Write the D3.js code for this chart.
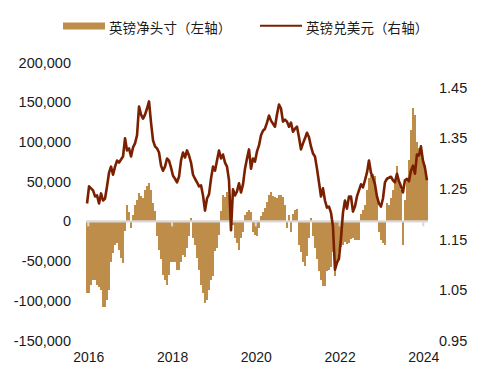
<!DOCTYPE html>
<html><head><meta charset="utf-8">
<script src="https://cdn.jsdelivr.net/npm/d3@7"></script>
<style>body{margin:0;background:#fff}svg{display:block}</style>
</head><body>
<svg id="c" width="485" height="380"></svg>
<script>
// ---- data ----
const seriesNames = ["英镑净头寸（左轴）", "英镑兑美元（右轴）"];
const yearTicks = [2016, 2018, 2020, 2022, 2024];
const leftTicks = [-150000, -100000, -50000, 0, 50000, 100000, 150000, 200000];
const rightTicks = [0.95, 1.05, 1.15, 1.25, 1.35, 1.45];
const startDate = new Date(2015, 11, 21);
const stepDays = 17.44;
// CFTC net position in GBP futures (contracts)
const netPosition = [
  -90000,-90000,-80000,-74000,-74000,-80000,-83000,-86000,-108000,-108000,
  -99000,-86000,-51000,-40000,-30000,-27000,-36000,-46000,-52000,-12000,
  21000,12000,-8000,8000,21000,27000,36000,32000,30000,40000,
  45000,48000,40000,23000,13000,-18000,-36000,-48000,-67000,-74000,
  -80000,-67000,-51000,-51000,-51000,-61000,-61000,-51000,-42000,-45000,
  -33000,-18000,4000,-21000,-30000,-46000,-61000,-80000,-90000,-103000,
  -99000,-87000,-74000,-69000,-37000,-33000,-17000,13000,33000,31000,
  37000,33000,21000,-4000,-21000,-27000,-36000,-21000,-13000,8000,
  12000,14000,12000,-13000,-17000,-19000,-8000,7000,12000,17000,
  24000,33000,37000,32000,31000,30000,33000,33000,31000,21000,
  -8000,8000,-14000,9000,14000,16000,-30000,-38000,-51000,-56000,
  -43000,-21000,4000,-19000,-33000,-48000,-63000,-74000,-81000,-82000,
  -63000,-61000,-58000,-38000,-69000,-53000,-38000,-32000,-30000,-26000,
  -28000,-27000,-22000,-21000,-23000,-23000,-24000,9000,14000,21000,
  40000,55000,58000,60000,57000,33000,-13000,-23000,-27000,-30000,
  23000,21000,30000,40000,48000,70000,52000,40000,-30000,27000,
  55000,77000,115000,143000,134000,100000,92000,96000,80000,71000,
  52000
];
// GBP/USD
const gbpusd = [
  1.221,1.255,1.251,1.247,1.235,1.237,1.221,1.241,1.227,1.231,
  1.255,1.282,1.294,1.278,1.294,1.306,1.302,1.308,1.314,1.350,
  1.326,1.330,1.314,1.332,1.340,1.356,1.413,1.397,1.389,1.397,
  1.409,1.423,1.381,1.346,1.334,1.330,1.322,1.296,1.286,1.294,
  1.310,1.306,1.292,1.276,1.270,1.263,1.274,1.306,1.322,1.312,
  1.326,1.316,1.302,1.278,1.270,1.263,1.255,1.257,1.237,1.207,
  1.231,1.239,1.270,1.294,1.286,1.306,1.326,1.310,1.318,1.302,
  1.294,1.267,1.168,1.249,1.237,1.245,1.261,1.243,1.259,1.290,
  1.310,1.328,1.290,1.310,1.304,1.324,1.336,1.356,1.365,1.369,
  1.381,1.395,1.385,1.379,1.373,1.397,1.417,1.409,1.383,1.387,
  1.383,1.373,1.381,1.363,1.369,1.373,1.352,1.328,1.340,1.350,
  1.361,1.352,1.334,1.320,1.314,1.290,1.263,1.235,1.251,1.227,
  1.213,1.215,1.203,1.175,1.090,1.104,1.112,1.152,1.203,1.227,
  1.211,1.235,1.235,1.205,1.215,1.235,1.247,1.259,1.253,1.267,
  1.282,1.306,1.282,1.272,1.259,1.235,1.221,1.215,1.231,1.263,
  1.270,1.272,1.274,1.267,1.263,1.280,1.265,1.255,1.243,1.267,
  1.270,1.265,1.286,1.296,1.280,1.318,1.316,1.334,1.306,1.292,
  1.267
];

// ---- chart ----
const barColor = "#bf8d4a", lineColor = "#7a2000", axisGray = "#d9d9d9";
const font = "'Liberation Sans', Arial, sans-serif";
const cjk = "'Noto Sans CJK SC', 'Noto Sans', sans-serif";
const svg = d3.select("#c");
const dates = netPosition.map((_, i) => new Date(startDate.getTime() + i * stepDays * 864e5));
const x = d3.scaleTime().domain([new Date(2016,0,1), new Date(2024,0,1)]).range([88.3, 423.3]);
const yL = d3.scaleLinear().domain([-150000, 200000]).range([340.5, 62.5]);
const yR = d3.scaleLinear().domain([0.95, 1.5]).range([340.5, 62.5]);
const bw = x(dates[1]) - x(dates[0]);

// bars
svg.append("g").selectAll("rect").data(netPosition).join("rect")
  .attr("x", (d,i) => x(dates[i]) - bw/2)
  .attr("width", bw + 0.3)
  .attr("y", d => Math.min(yL(d), yL(0)))
  .attr("height", d => Math.abs(yL(d) - yL(0)))
  .attr("fill", barColor)
  .attr("shape-rendering", "crispEdges");

// zero axis line + tick marks
const x0 = x(dates[0]) - bw/2, x1 = x(dates[dates.length-1]) + bw/2;
svg.append("line").attr("x1", x0).attr("x2", x1).attr("y1", yL(0)).attr("y2", yL(0))
  .attr("stroke", axisGray).attr("stroke-width", 2.2);
svg.append("g").selectAll("line").data(yearTicks).join("line")
  .attr("x1", d => x(new Date(d,0,1))).attr("x2", d => x(new Date(d,0,1)))
  .attr("y1", yL(0)).attr("y2", yL(0) + 5)
  .attr("stroke", axisGray).attr("stroke-width", 2);

// line
svg.append("path").datum(gbpusd)
  .attr("d", d3.line().x((d,i) => x(dates[i])).y(d => yR(d)))
  .attr("fill", "none").attr("stroke", lineColor).attr("stroke-width", 2.6)
  .attr("stroke-linejoin", "round");

// axes
const fmtL = d => d3.format(",")(d).replace("\u2212", "-");
const gl = svg.append("g").attr("transform", "translate(73,0)")
  .call(d3.axisLeft(yL).tickValues(leftTicks).tickSize(0).tickPadding(2).tickFormat(fmtL));
const gr = svg.append("g").attr("transform", "translate(436,0)")
  .call(d3.axisRight(yR).tickValues(rightTicks).tickSize(0).tickPadding(3).tickFormat(d3.format(".2f")));
const gb = svg.append("g").attr("transform", "translate(0,350)")
  .call(d3.axisBottom(x).tickValues(yearTicks.map(y => new Date(y,0,1))).tickSize(0).tickPadding(2).tickFormat(d3.timeFormat("%Y")));
[gl, gr, gb].forEach(g => {
  g.select(".domain").remove();
  g.selectAll("text").attr("font-family", font).attr("font-size", "14.5px").attr("fill", "#1a1a1a");
});
gb.selectAll("text").attr("font-size", "14px");

// legend (each CJK glyph on a full-width grid)
const adv = 13.6;
const charX = (x0, s) => Array.from(s).map((c, i) => (x0 + i * adv).toFixed(1)).join(" ");
const lg = svg.append("g");
lg.append("rect").attr("x", 63).attr("y", 22.5).attr("width", 42).attr("height", 7).attr("fill", barColor);
lg.append("text").attr("x", charX(109, seriesNames[0])).attr("y", 26.5).attr("dominant-baseline", "central")
  .attr("font-family", cjk).attr("font-size", "13.5px").attr("fill", "#1a1a1a").text(seriesNames[0]);
lg.append("line").attr("x1", 260).attr("x2", 302).attr("y1", 25.7).attr("y2", 25.7)
  .attr("stroke", lineColor).attr("stroke-width", 2);
lg.append("text").attr("x", charX(306, seriesNames[1])).attr("y", 26.5).attr("dominant-baseline", "central")
  .attr("font-family", cjk).attr("font-size", "13.5px").attr("fill", "#1a1a1a").text(seriesNames[1]);
</script>
</body></html>
